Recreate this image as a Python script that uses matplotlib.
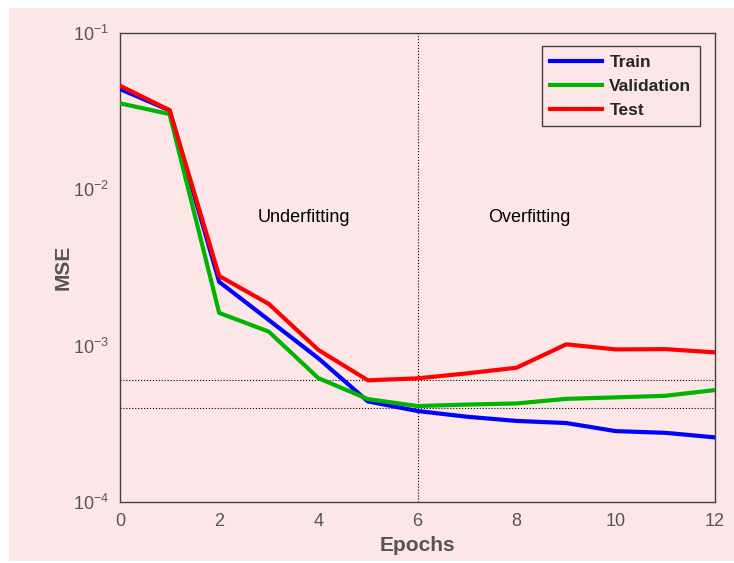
import matplotlib
matplotlib.use("Agg")
import matplotlib.pyplot as plt
from matplotlib.patches import Rectangle

plt.rcParams["font.family"] = ["Liberation Sans", "DejaVu Sans"]

# data
epochs = list(range(13))
train = [0.0438, 0.032, 0.00256, 0.00146, 0.00083, 0.00044, 0.000382,
         0.000351, 0.00033, 0.00032, 0.000284, 0.000277, 0.000259]
validation = [0.0355, 0.0303, 0.00162, 0.00123, 0.00062, 0.000455, 0.000411,
              0.00042, 0.000427, 0.000457, 0.000467, 0.000478, 0.00052]
test = [0.046, 0.0321, 0.00279, 0.00185, 0.00094, 0.0006, 0.000618,
        0.000665, 0.000723, 0.00102, 0.000946, 0.00095, 0.000906]
split_epoch = 6
ref_levels = [6e-4, 4e-4]

BG = "#fce6e8"
AX_GRAY = "#404040"
TXT_GRAY = "#555555"

fig = plt.figure(figsize=(7.34, 5.63), dpi=100, facecolor="white")
fig.patches.append(Rectangle((9 / 734, 2 / 563), 1 - 9 / 734, 1 - 10 / 563,
                             transform=fig.transFigure, facecolor=BG,
                             edgecolor="none", zorder=-10))
ax = fig.add_axes([120 / 734, 1 - 502 / 563, 595 / 734, 469 / 563])
ax.set_facecolor(BG)

ax.plot(epochs, train, color="#0000ff", lw=3, label="Train", zorder=3)
ax.plot(epochs, validation, color="#00b400", lw=3, label="Validation", zorder=3)
ax.plot(epochs, test, color="#ff0000", lw=3, label="Test", zorder=4)

ax.axvline(split_epoch, color="black", lw=0.8, ls=":", zorder=2)
for lv in ref_levels:
    ax.axhline(lv, color="black", lw=0.8, ls=":", zorder=2)

ax.text(3.7, 0.0066, "Underfitting", fontsize=13, ha="center", va="center")
ax.text(8.25, 0.0066, "Overfitting", fontsize=13, ha="center", va="center")

ax.set_yscale("log")
ax.set_xlim(0, 12)
ax.set_ylim(1e-4, 1e-1)
ax.set_xticks([0, 2, 4, 6, 8, 10, 12])
ax.set_yticks([1e-4, 1e-3, 1e-2, 1e-1])
ax.minorticks_off()
ax.tick_params(direction="in", length=0, labelsize=13, colors=TXT_GRAY, pad=8)
for s in ax.spines.values():
    s.set_color(AX_GRAY)
    s.set_linewidth(1.0)

ax.set_xlabel("Epochs", fontsize=15, fontweight="bold", color=TXT_GRAY, labelpad=4)
ax.set_ylabel("MSE", fontsize=15, fontweight="bold", color=TXT_GRAY, labelpad=0)

leg = ax.legend(loc="upper right", bbox_to_anchor=(0.975, 0.972),
                borderaxespad=0, prop={"weight": "bold", "size": 12.5},
                fancybox=False, framealpha=1, facecolor=BG, edgecolor=AX_GRAY,
                handlelength=3.0, handletextpad=0.4, borderpad=0.5,
                labelspacing=0.5)
for t in leg.get_texts():
    t.set_color("#262626")

fig.savefig("out.png", dpi=100, facecolor="white")
